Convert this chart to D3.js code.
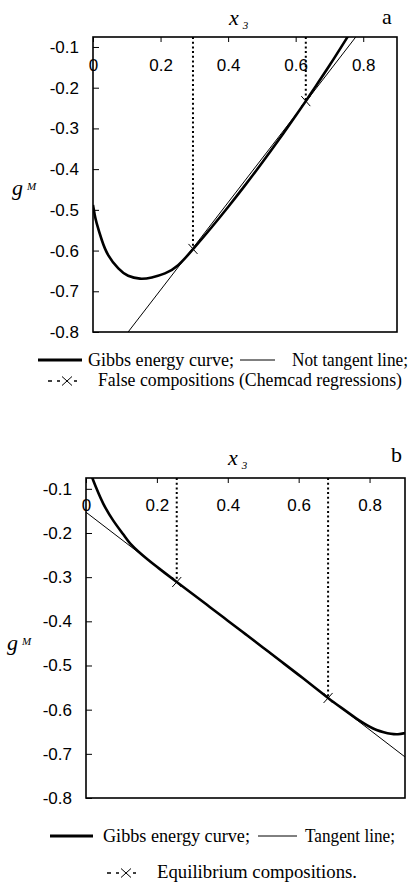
<!DOCTYPE html>
<html>
<head>
<meta charset="utf-8">
<script src="https://cdn.jsdelivr.net/npm/d3@7"></script>
<style>
  body { margin: 0; background: #fff; }
  .tick text { font-family: "Liberation Sans", Arial, sans-serif; font-size: 17px; fill: #000; }
  .serif { font-family: "Liberation Serif", "Times New Roman", "DejaVu Serif", serif; fill: #000; }
</style>
</head>
<body>
<svg id="chart" width="412" height="886"></svg>
<script>
// shared ticks
const xTicks = [0, 0.2, 0.4, 0.6, 0.8]
const yTicks = [-0.1, -0.2, -0.3, -0.4, -0.5, -0.6, -0.7, -0.8]
const xDomain = [0, 0.9]
const yDomain = [-0.8, -0.0755]

// panel a : false compositions
const gibbsAx = [0, 0.005, 0.011, 0.026, 0.045, 0.075, 0.104, 0.139, 0.174, 0.213, 0.252, 0.3, 0.35, 0.4, 0.45, 0.5, 0.55, 0.6, 0.63, 0.65, 0.7, 0.75, 0.78]
const gibbsAy = [-0.488, -0.512, -0.533, -0.574, -0.611, -0.644, -0.662, -0.669, -0.666, -0.656, -0.636, -0.593, -0.544, -0.493, -0.44, -0.385, -0.328, -0.269, -0.233, -0.208, -0.1455, -0.08, -0.04]
const lineAx = [0.09, 0.8]
const lineAy = [-0.815, -0.0518]
const pointsAx = [0.296, 0.63]
const pointsAy = [-0.596, -0.233]

// panel b : equilibrium compositions
const gibbsBx = [0.012, 0.02, 0.03, 0.049, 0.077, 0.105, 0.125, 0.15, 0.175, 0.2, 0.225, 0.256, 0.3, 0.35, 0.4, 0.45, 0.5, 0.55, 0.6, 0.65, 0.683, 0.72, 0.76, 0.78, 0.8, 0.82, 0.84, 0.86, 0.88, 0.9]
const gibbsBy = [-0.062, -0.08, -0.1, -0.134, -0.172, -0.203, -0.224, -0.2435, -0.2605, -0.2765, -0.292, -0.311, -0.3375, -0.368, -0.3985, -0.429, -0.4597, -0.4905, -0.5213, -0.5525, -0.5735, -0.5955, -0.6185, -0.629, -0.6385, -0.646, -0.651, -0.6545, -0.6555, -0.653]
const lineBx = [0, 0.9]
const lineBy = [-0.153, -0.707]
const pointsBx = [0.256, 0.683]
const pointsBy = [-0.311, -0.5735]

const svg = d3.select('#chart')

/**
 * Draws one panel of the figure.
 */
function drawPanel (cfg) {
  const x = d3.scaleLinear().domain(xDomain).range([cfg.left, cfg.right])
  const y = d3.scaleLinear().domain(yDomain).range([cfg.bottom, cfg.top])
  const g = svg.append('g')

  const clipId = 'clip-' + cfg.name
  g.append('clipPath').attr('id', clipId)
    .append('rect')
    .attr('x', cfg.left).attr('y', cfg.top)
    .attr('width', cfg.right - cfg.left).attr('height', cfg.bottom - cfg.top)

  // axes
  const xAxis = g.append('g').attr('transform', `translate(0,${cfg.top})`)
    .call(d3.axisTop(x).tickValues(xTicks).tickSize(-5).tickPadding(-cfg.xLabelOffset)
      .tickFormat(d => d === 0 ? '0' : d.toFixed(1)))
  xAxis.select('.domain').remove()
  xAxis.selectAll('.tick line').attr('stroke', '#000')

  const yAxis = g.append('g').attr('transform', `translate(${cfg.left},0)`)
    .call(d3.axisLeft(y).tickValues(yTicks).tickSize(-6).tickPadding(cfg.yLabelPad)
      .tickFormat(d => d.toFixed(1)))
  yAxis.select('.domain').remove()
  yAxis.selectAll('.tick line').attr('stroke', '#000')

  const plot = g.append('g').attr('clip-path', `url(#${clipId})`)

  // dotted verticals
  plot.selectAll('.drop')
    .data(cfg.px.map((d, i) => [d, cfg.py[i]]))
    .join('line')
    .attr('x1', d => x(d[0])).attr('x2', d => x(d[0]))
    .attr('y1', y(yDomain[1])).attr('y2', d => y(d[1]))
    .attr('stroke', '#000').attr('stroke-width', 2)
    .attr('stroke-dasharray', '2,2.7')

  // thin line
  plot.append('path')
    .datum(cfg.lx.map((d, i) => [d, cfg.ly[i]]))
    .attr('d', d3.line().x(d => x(d[0])).y(d => y(d[1])))
    .attr('fill', 'none').attr('stroke', '#000').attr('stroke-width', 1)

  // gibbs energy curve
  plot.append('path')
    .datum(cfg.gx.map((d, i) => [d, cfg.gy[i]]))
    .attr('d', d3.line().curve(d3.curveNatural).x(d => x(d[0])).y(d => y(d[1])))
    .attr('fill', 'none').attr('stroke', '#000').attr('stroke-width', 2.6)

  // x markers
  plot.selectAll('.mk')
    .data(cfg.px.map((d, i) => [d, cfg.py[i]]))
    .join('path')
    .attr('transform', d => `translate(${x(d[0])},${y(d[1])})`)
    .attr('d', 'M-4.5,-5L4.5,5M-4.5,5L4.5,-5')
    .attr('stroke', '#000').attr('stroke-width', 1)

  // frame
  g.append('rect')
    .attr('x', cfg.left).attr('y', cfg.top)
    .attr('width', cfg.right - cfg.left).attr('height', cfg.bottom - cfg.top)
    .attr('fill', 'none').attr('stroke', '#000').attr('stroke-width', 1.6)

  // titles
  const xt = g.append('text').attr('class', 'serif')
    .attr('x', cfg.xTitle[0]).attr('y', cfg.xTitle[1])
  xt.append('tspan').attr('font-style', 'italic').attr('font-size', 22).text('x')
  xt.append('tspan').attr('font-style', 'italic').attr('font-size', 11)
    .attr('dx', 4).attr('dy', 4).text('3')

  const yt = g.append('text').attr('class', 'serif')
    .attr('x', cfg.yTitle[0]).attr('y', cfg.yTitle[1])
  yt.append('tspan').attr('font-style', 'italic').attr('font-size', 22).text('g')
  yt.append('tspan').attr('font-style', 'italic').attr('font-size', 11)
    .attr('dx', 4).attr('dy', -5).text('M')

  g.append('text').attr('class', 'serif')
    .attr('x', cfg.letter[0]).attr('y', cfg.letter[1])
    .attr('font-size', 22).text(cfg.name)

  // legend (text widths fitted to the original figure)
  const lg = g.append('g')
  const L = cfg.legend
  const legendText = (x0, y0, w, txt) => lg.append('text').attr('class', 'serif')
    .attr('font-size', 18).attr('x', x0).attr('y', y0)
    .attr('textLength', w).attr('lengthAdjust', 'spacingAndGlyphs').text(txt)

  lg.append('line').attr('x1', L.thick[0]).attr('x2', L.thick[1])
    .attr('y1', L.row1).attr('y2', L.row1).attr('stroke', '#000').attr('stroke-width', 3)
  legendText(L.text1[0], L.row1 + 6, L.text1[1], 'Gibbs energy curve;')
  lg.append('line').attr('x1', L.thin[0]).attr('x2', L.thin[1])
    .attr('y1', L.row1).attr('y2', L.row1).attr('stroke', '#000').attr('stroke-width', 1)
  legendText(L.text2[0], L.row1 + 6, L.text2[1], cfg.lineLabel)

  const c = L.mark
  lg.selectAll('.dash')
    .data([[-19, -15], [-10, -7], [7, 10]])
    .join('line')
    .attr('x1', d => c + d[0]).attr('x2', d => c + d[1])
    .attr('y1', L.row2).attr('y2', L.row2)
    .attr('stroke', '#000').attr('stroke-width', 1.5)
  lg.append('path').attr('transform', `translate(${c},${L.row2})`)
    .attr('d', 'M-5,-4.5L5,4.5M-5,4.5L5,-4.5')
    .attr('stroke', '#000').attr('stroke-width', 1)
  legendText(L.text3[0], L.row2 + 5, L.text3[1], cfg.pointLabel)
}

drawPanel({
  name: 'a', left: 93, right: 397, top: 37, bottom: 332,
  xLabelOffset: 34, yLabelPad: 14,
  gx: gibbsAx, gy: gibbsAy, lx: lineAx, ly: lineAy, px: pointsAx, py: pointsAy,
  xTitle: [229, 25], yTitle: [12, 195], letter: [382, 24],
  lineLabel: 'Not tangent line;',
  pointLabel: 'False compositions (Chemcad regressions)',
  legend: { row1: 360, row2: 381, thick: [38, 82], thin: [240, 275], mark: 67, text1: [88, 146], text2: [292, 116], text3: [98, 304] }
})

drawPanel({
  name: 'b', left: 86, right: 405, top: 478, bottom: 798,
  xLabelOffset: 33, yLabelPad: 14,
  gx: gibbsBx, gy: gibbsBy, lx: lineBx, ly: lineBy, px: pointsBx, py: pointsBy,
  xTitle: [228, 465], yTitle: [7, 650], letter: [391, 462],
  lineLabel: 'Tangent line;',
  pointLabel: 'Equilibrium compositions.',
  legend: { row1: 836, row2: 873, thick: [50, 93], thin: [258, 297], mark: 126, text1: [103, 147], text2: [305, 90], text3: [157, 200] }
})
</script>
</body>
</html>
